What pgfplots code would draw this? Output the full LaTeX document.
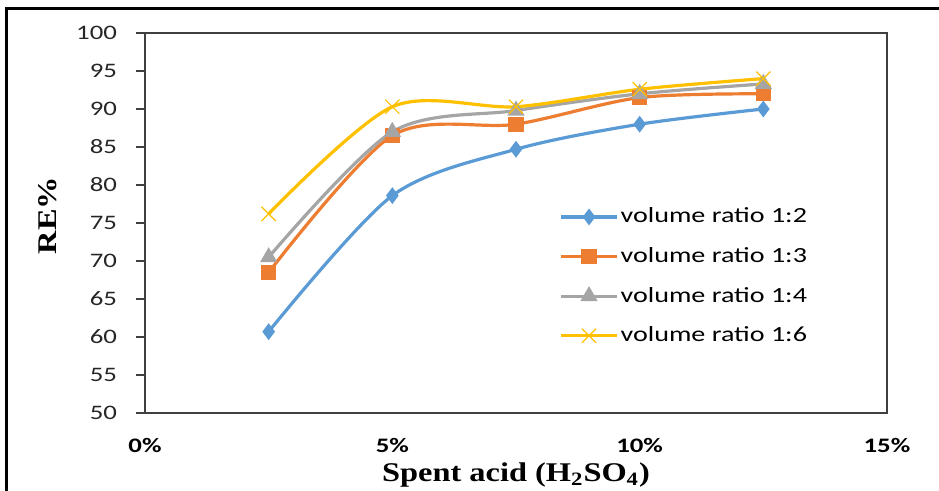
\documentclass[border=0pt]{standalone}
\usepackage{fontspec}
\usepackage{pgfplots}
\pgfplotsset{compat=1.18}
\setmainfont{Carlito}
\newfontfamily\tickfont[FakeStretch=1.3]{Carlito}
\newfontfamily\labelfont[FakeStretch=1.2]{Liberation Serif}
\definecolor{c1}{HTML}{5B9BD5}
\definecolor{c2}{HTML}{ED7D31}
\definecolor{c3}{HTML}{A5A5A5}
\definecolor{c4}{HTML}{FFC000}
\definecolor{axgray}{HTML}{404040}
\begin{document}
\begin{tikzpicture}
\useasboundingbox (0pt,0pt) rectangle (469.5pt,-245.5pt);
\draw[line width=1.5pt] (3pt,-250pt) -- (3pt,-4.5pt) -- (475pt,-4.5pt);
\begin{axis}[
  at={(72.5pt,-206.5pt)}, anchor=south west,
  scale only axis, width=371pt, height=190pt,
  xmin=0, xmax=15, ymin=50, ymax=100,
  xtick={0,5,10,15}, xticklabels={0\%,5\%,10\%,15\%},
  ytick={50,55,...,100},
  axis line style={draw=axgray, line width=1pt},
  tick style={draw=axgray, line width=0.8pt},
  x tick style={draw=none},
  major tick length=4.5pt,
  tick align=outside,
  ytick pos=left,
  /pgf/number format/assume math mode=true,
  yticklabel style={font=\tickfont\fontsize{10.3}{12}\selectfont, color=black!85, xshift=-6pt},
  xticklabel style={font=\tickfont\bfseries\fontsize{10.3}{12}\selectfont, yshift=-4.5pt},
  every axis y label/.style={at={(axis description cs:-0.131,0.52)}, rotate=90, anchor=center},
  every axis x label/.style={at={(axis description cs:0.5,-0.163)}, anchor=center},
  ylabel={\labelfont\bfseries\fontsize{13.5}{15}\selectfont RE\%},
  xlabel={\labelfont\bfseries\fontsize{13.5}{15}\selectfont Spent acid (H\textsubscript{2}SO\textsubscript{4})},
  legend style={at={(0.558,0.546)}, anchor=north west, draw=none, fill=none,
    font=\tickfont\fontsize{10.8}{12}\selectfont, row sep=8.8pt, inner sep=0pt,
    nodes={inner sep=1pt}},
  legend cell align=left,
  legend image code/.code={\draw[mark repeat=2,mark phase=2] plot coordinates {(0pt,0pt)(14pt,0pt)(28pt,0pt)};},
  every axis plot/.append style={line width=1.6pt, smooth, tension=0.5},
]
\addplot[color=c1, mark=diamond*, mark size=2.9pt, mark options={solid}] coordinates {
  (2.5,60.7) (5,78.6) (7.5,84.7) (10,88.0) (12.5,90.0)};
\addlegendentry{volume ratio 1:2}
\addplot[color=c2, mark=square*, mark size=3.0pt] coordinates {
  (2.5,68.5) (5,86.5) (7.5,88.0) (10,91.5) (12.5,92.0)};
\addlegendentry{volume ratio 1:3}
\addplot[color=c3, mark=triangle*, mark size=3.4pt] coordinates {
  (2.5,70.5) (5,87.0) (7.5,89.8) (10,92.0) (12.5,93.3)};
\addlegendentry{volume ratio 1:4}
\addplot[color=c4, mark=x, mark size=5pt, mark options={line width=0.6pt}] coordinates {
  (2.5,76.2) (5,90.3) (7.5,90.3) (10,92.6) (12.5,94.0)};
\addlegendentry{volume ratio 1:6}
\end{axis}
\end{tikzpicture}
\end{document}
